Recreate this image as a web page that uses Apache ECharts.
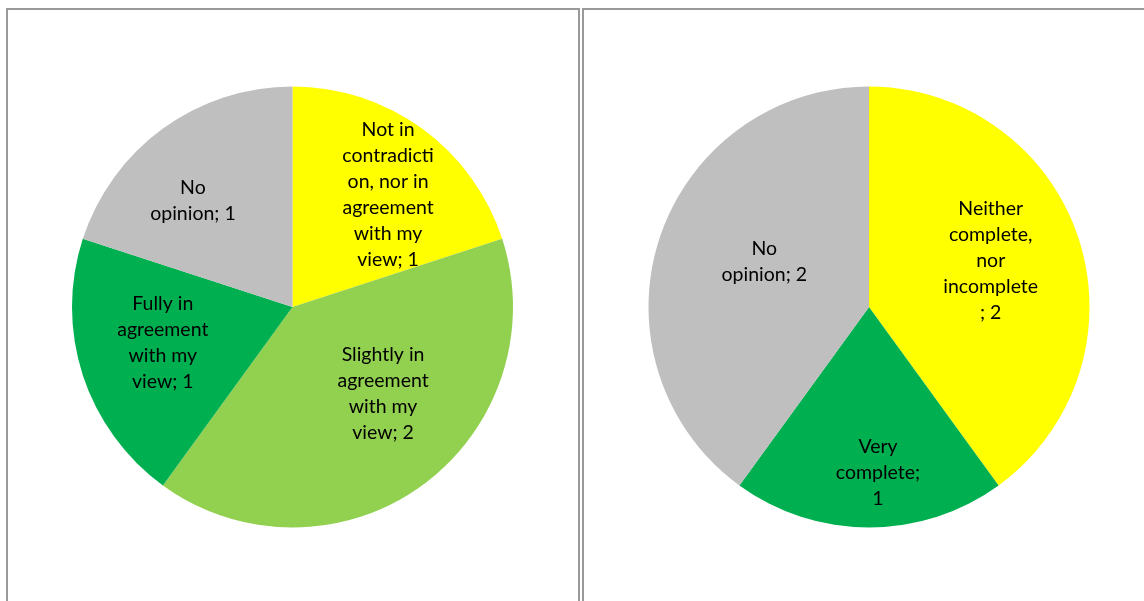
<!DOCTYPE html>
<html>
<head>
<meta charset="utf-8">
<style>
  html, body { margin: 0; padding: 0; background: #ffffff; }
  #chart { width: 1144px; height: 601px; }
</style>
<script src="https://cdn.jsdelivr.net/npm/echarts@6/dist/echarts.min.js"></script>
</head>
<body>
<div id="chart"></div>
<script>
// Left pie: agreement with the stated view
const leftNames = [
  'Not in contradiction, nor in agreement with my view',
  'Slightly in agreement with my view',
  'Fully in agreement with my view',
  'No opinion'
];
const leftValues = [1, 2, 1, 1];
const leftLabelText = [
  'Not in\ncontradicti\non, nor in\nagreement\nwith my\nview; {v}',
  'Slightly in\nagreement\nwith my\nview; {v}',
  'Fully in\nagreement\nwith my\nview; {v}',
  'No\nopinion; {v}'
];
const leftColors = ['#FFFF00', '#92D050', '#00B050', '#BFBFBF'];

// Right pie: completeness
const rightNames = [
  'Neither complete, nor incomplete',
  'Very complete',
  'No opinion'
];
const rightValues = [2, 1, 2];
const rightLabelText = [
  'Neither\ncomplete,\nnor\nincomplete\n; {v}',
  'Very\ncomplete;\n{v}',
  'No\nopinion; {v}'
];
const rightColors = ['#FFFF00', '#00B050', '#BFBFBF'];

// Label nudges (px) away from the default mid-radius spot
const leftLabelNudge = [[29, -21], [24, -5], [-22, 1], [-33, -15]];
const rightLabelNudge = [[14, -11], [9, 52], [3, -10]];

const FONT = 'Lato, "Open Sans", sans-serif';

function buildData(names, values, texts, colors, nudges) {
  return names.map((n, i) => ({
    name: n,
    value: values[i],
    itemStyle: { color: colors[i] },
    label: {
      offset: nudges[i],
      formatter: texts[i].replace('{v}', values[i])
    }
  }));
}

function pieSeries(center, data) {
  return {
    type: 'pie',
    center: center,
    radius: 220.5,
    startAngle: 90,
    clockwise: true,
    animation: false,
    silent: true,
    itemStyle: { borderWidth: 0 },
    label: {
      show: true,
      position: 'inside',
      color: '#000000',
      fontFamily: FONT,
      fontSize: 19.5,
      lineHeight: 26,
      align: 'center'
    },
    labelLine: { show: false },
    data: data
  };
}

const chart = echarts.init(document.getElementById('chart'), null, { renderer: 'canvas' });
chart.setOption({
  backgroundColor: '#ffffff',
  graphic: [
    { type: 'rect', shape: { x: 7, y: 9, width: 572, height: 700 },
      style: { fill: 'none', stroke: '#999999', lineWidth: 2 }, silent: true },
    { type: 'rect', shape: { x: 583, y: 9, width: 700, height: 700 },
      style: { fill: 'none', stroke: '#999999', lineWidth: 2 }, silent: true }
  ],
  series: [
    pieSeries([292.5, 307], buildData(leftNames, leftValues, leftLabelText, leftColors, leftLabelNudge)),
    pieSeries([869, 307], buildData(rightNames, rightValues, rightLabelText, rightColors, rightLabelNudge))
  ]
});
</script>
</body>
</html>
